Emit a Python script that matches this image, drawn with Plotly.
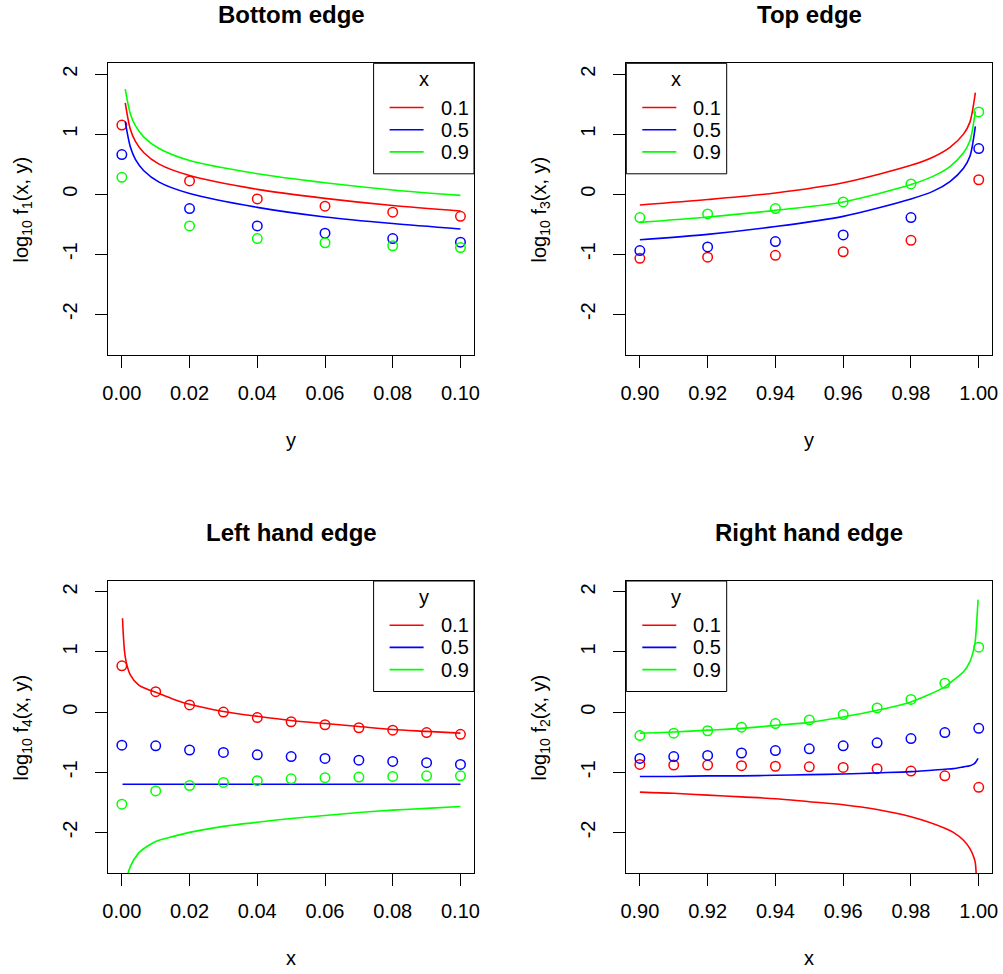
import plotly.graph_objects as go

# ---------------- data ----------------
legend_levels = ["0.1", "0.5", "0.9"]
series_colors = ["#FF0000", "#0000FF", "#00FF00"]

# Panel 1: Bottom edge, log10 f1(x, y) against y, for x = 0.1, 0.5, 0.9
p1_pts_y = [0.00, 0.02, 0.04, 0.06, 0.08, 0.10]
p1_pts_x01 = [1.15, 0.22, -0.08, -0.20, -0.30, -0.37]
p1_pts_x05 = [0.66, -0.24, -0.53, -0.65, -0.74, -0.80]
p1_pts_x09 = [0.28, -0.53, -0.74, -0.81, -0.86, -0.89]
p1_curve_y = [0.001, 0.0025, 0.004, 0.0065, 0.011, 0.02, 0.04, 0.06, 0.08, 0.10]
p1_curve_x01 = [1.52, 1.08, 0.88, 0.69, 0.50, 0.31, 0.08, -0.07, -0.19, -0.28]
p1_curve_x05 = [1.21, 0.79, 0.58, 0.39, 0.20, 0.01, -0.22, -0.38, -0.49, -0.58]
p1_curve_x09 = [1.75, 1.34, 1.14, 0.95, 0.76, 0.56, 0.34, 0.19, 0.07, -0.02]

# Panel 2: Top edge, log10 f3(x, y) against y
p2_pts_y = [0.90, 0.92, 0.94, 0.96, 0.98, 1.00]
p2_pts_x01 = [-1.07, -1.05, -1.02, -0.96, -0.77, 0.24]
p2_pts_x05 = [-0.94, -0.88, -0.79, -0.68, -0.39, 0.76]
p2_pts_x09 = [-0.39, -0.33, -0.24, -0.13, 0.17, 1.37]
p2_curve_y = [0.90, 0.92, 0.94, 0.96, 0.98, 0.9866, 0.9915, 0.9955, 0.9974, 0.999]
p2_curve_x01 = [-0.18, -0.09, 0.02, 0.19, 0.48, 0.62, 0.78, 1.00, 1.20, 1.69]
p2_curve_x05 = [-0.76, -0.67, -0.54, -0.37, -0.08, 0.05, 0.21, 0.43, 0.63, 1.13]
p2_curve_x09 = [-0.47, -0.38, -0.27, -0.13, 0.16, 0.30, 0.46, 0.69, 0.89, 1.38]

# Panel 3: Left hand edge, log10 f4(x, y) against x, for y = 0.1, 0.5, 0.9
p3_pts_x = [0.00, 0.01, 0.02, 0.03, 0.04, 0.05, 0.06, 0.07, 0.08, 0.09, 0.10]
p3_pts_y01 = [0.77, 0.34, 0.12, 0.00, -0.09, -0.16, -0.21, -0.26, -0.30, -0.34, -0.37]
p3_pts_y05 = [-0.55, -0.56, -0.63, -0.67, -0.71, -0.74, -0.77, -0.80, -0.82, -0.84, -0.87]
p3_pts_y09 = [-1.53, -1.31, -1.22, -1.17, -1.14, -1.11, -1.09, -1.08, -1.07, -1.06, -1.06]
p3_curve_x = [0.0002, 0.001, 0.0025, 0.005, 0.0075, 0.01, 0.015, 0.02, 0.03, 0.04,
              0.05, 0.06, 0.07, 0.08, 0.09, 0.10]
p3_curve_y01 = [1.56, 0.92, 0.62, 0.45, 0.38, 0.33, 0.22, 0.13, 0.01, -0.07,
                -0.14, -0.19, -0.24, -0.29, -0.32, -0.35]
p3_curve_y05 = [-1.20, -1.20, -1.20, -1.20, -1.20, -1.20, -1.20, -1.20, -1.20, -1.20,
                -1.20, -1.20, -1.20, -1.20, -1.20, -1.20]
p3_curve_y09 = [-3.60, -2.90, -2.57, -2.34, -2.23, -2.15, -2.07, -2.00, -1.90, -1.83,
                -1.77, -1.72, -1.67, -1.63, -1.60, -1.57]

# Panel 4: Right hand edge, log10 f2(x, y) against x
p4_pts_x = [0.90, 0.91, 0.92, 0.93, 0.94, 0.95, 0.96, 0.97, 0.98, 0.99, 1.00]
p4_pts_y01 = [-0.87, -0.88, -0.88, -0.89, -0.90, -0.91, -0.92, -0.94, -0.98, -1.06, -1.25]
p4_pts_y05 = [-0.77, -0.74, -0.72, -0.68, -0.64, -0.61, -0.56, -0.51, -0.44, -0.34, -0.27]
p4_pts_y09 = [-0.39, -0.35, -0.31, -0.25, -0.19, -0.13, -0.04, 0.07, 0.21, 0.48, 1.08]
p4_curve_x = [0.90, 0.91, 0.92, 0.93, 0.94, 0.95, 0.96, 0.97, 0.98, 0.99,
              0.9925, 0.9955, 0.9974, 0.9986, 0.999, 0.9998]
p4_curve_y01 = [-1.33, -1.35, -1.38, -1.41, -1.44, -1.49, -1.54, -1.62, -1.74, -1.93,
                -2.00, -2.13, -2.27, -2.42, -2.51, -3.50]
p4_curve_y05 = [-1.07, -1.07, -1.06, -1.06, -1.05, -1.04, -1.03, -1.01, -0.99, -0.95,
                -0.94, -0.91, -0.89, -0.86, -0.84, -0.77]
p4_curve_y09 = [-0.35, -0.33, -0.30, -0.27, -0.22, -0.17, -0.08, 0.03, 0.17, 0.42,
                0.53, 0.67, 0.84, 1.06, 1.20, 1.87]

y_tickvals = [-2, -1, 0, 1, 2]
y_ticktext = ["-2", "-1", "0", "1", "2"]
x_ticks_low = [0.00, 0.02, 0.04, 0.06, 0.08, 0.10]
x_ticks_high = [0.90, 0.92, 0.94, 0.96, 0.98, 1.00]

panel_titles = ["Bottom edge", "Top edge", "Left hand edge", "Right hand edge"]
x_titles = ["y", "y", "x", "x"]
y_titles = ["log<sub>10</sub> f<sub>1</sub>(x, y)", "log<sub>10</sub> f<sub>3</sub>(x, y)",
            "log<sub>10</sub> f<sub>4</sub>(x, y)", "log<sub>10</sub> f<sub>2</sub>(x, y)"]
legend_titles = ["x", "x", "y", "y"]

# ---------------- layout geometry (window pixels) ----------------
W, H = 1003, 974
FONT = "Liberation Sans, Arial, Helvetica, sans-serif"
boxes = [  # left, right, top, bottom in pixels
    (108.3, 474.0, 63.3, 355.0),
    (626.3, 992.3, 63.3, 355.0),
    (108.3, 474.0, 581.0, 873.3),
    (626.3, 992.3, 581.0, 873.3),
]
legend_left_side = [False, True, False, True]


def px(xp):
    return xp / W


def py(yp):
    return 1 - yp / H


fig = go.Figure()

panels = [
    (p1_pts_y, [p1_pts_x01, p1_pts_x05, p1_pts_x09], p1_curve_y, [p1_curve_x01, p1_curve_x05, p1_curve_x09], x_ticks_low),
    (p2_pts_y, [p2_pts_x01, p2_pts_x05, p2_pts_x09], p2_curve_y, [p2_curve_x01, p2_curve_x05, p2_curve_x09], x_ticks_high),
    (p3_pts_x, [p3_pts_y01, p3_pts_y05, p3_pts_y09], p3_curve_x, [p3_curve_y01, p3_curve_y05, p3_curve_y09], x_ticks_low),
    (p4_pts_x, [p4_pts_y01, p4_pts_y05, p4_pts_y09], p4_curve_x, [p4_curve_y01, p4_curve_y05, p4_curve_y09], x_ticks_high),
]

annotations = []
shapes = []
layout_axes = {}

for i, (pts_x, pts_series, cx, c_series, xt) in enumerate(panels):
    n = i + 1
    xa = "x" if n == 1 else f"x{n}"
    ya = "y" if n == 1 else f"y{n}"
    for k in range(3):
        fig.add_trace(go.Scatter(
            x=cx, y=c_series[k], mode="lines", xaxis=xa, yaxis=ya,
            line=dict(color=series_colors[k], width=1.6, shape="spline", smoothing=0.8),
            showlegend=False, hoverinfo="skip"))
        fig.add_trace(go.Scatter(
            x=pts_x, y=pts_series[k], mode="markers", xaxis=xa, yaxis=ya,
            marker=dict(symbol="circle-open", size=9.5, color=series_colors[k],
                        line=dict(width=1.5, color=series_colors[k])),
            showlegend=False, cliponaxis=False, hoverinfo="skip"))

    l, r, t, b = boxes[i]
    span = xt[-1] - xt[0]
    common = dict(showline=True, linecolor="black", linewidth=1, mirror=True,
                  showgrid=False, zeroline=False, ticks="outside", ticklen=12,
                  tickwidth=1, tickcolor="black", automargin=False,
                  tickfont=dict(family=FONT, size=20, color="black"))
    layout_axes["xaxis" if n == 1 else f"xaxis{n}"] = dict(
        domain=[px(l), px(r)], anchor=ya,
        range=[xt[0] - 0.04 * span, xt[-1] + 0.04 * span],
        tickvals=xt, ticktext=[f"{v:.2f}" for v in xt],
        ticklabelstandoff=8, **common)
    layout_axes["yaxis" if n == 1 else f"yaxis{n}"] = dict(
        domain=[py(b), py(t)], anchor=xa,
        range=[-2.5 - 0.04 * 4.5, 2 + 0.04 * 4.5],
        tickvals=y_tickvals, ticktext=y_ticktext, tickangle=-90,
        ticklabelstandoff=10, **common)

    cxp = (l + r) / 2
    cyp = (t + b) / 2
    annotations.append(dict(text=f"<b>{panel_titles[i]}</b>", xref="paper", yref="paper",
                            x=px(cxp), y=py(t - 49), xanchor="center", yanchor="middle",
                            showarrow=False, font=dict(family=FONT, size=24, color="black")))
    annotations.append(dict(text=x_titles[i], xref="paper", yref="paper",
                            x=px(cxp), y=py(b + 85), xanchor="center", yanchor="middle",
                            showarrow=False, font=dict(family=FONT, size=20, color="black")))
    annotations.append(dict(text=y_titles[i], xref="paper", yref="paper",
                            x=px(l - 86), y=py(cyp), xanchor="center", yanchor="middle",
                            textangle=-90, showarrow=False,
                            font=dict(family=FONT, size=20, color="black")))

    # legend box (R style)
    lw, lh = 100.4, 110.5
    lx0 = l if legend_left_side[i] else r - lw
    shapes.append(dict(type="rect", xref="paper", yref="paper",
                       x0=px(lx0), x1=px(lx0 + lw), y0=py(t + lh), y1=py(t),
                       line=dict(color="black", width=1), fillcolor="white", layer="above"))
    annotations.append(dict(text=legend_titles[i], xref="paper", yref="paper",
                            x=px(lx0 + 50), y=py(t + 16), xanchor="center", yanchor="middle",
                            showarrow=False, font=dict(family=FONT, size=20, color="black")))
    for k in range(3):
        yy = t + 44.2 + 22.2 * k
        shapes.append(dict(type="line", xref="paper", yref="paper",
                           x0=px(lx0 + 16), x1=px(lx0 + 50), y0=py(yy), y1=py(yy),
                           line=dict(color=series_colors[k], width=1.6), layer="above"))
        annotations.append(dict(text=legend_levels[k], xref="paper", yref="paper",
                                x=px(lx0 + 65), y=py(yy), xanchor="left", yanchor="middle",
                                showarrow=False, font=dict(family=FONT, size=20, color="black")))

fig.update_layout(
    width=W, height=H, margin=dict(l=0, r=0, t=0, b=0),
    paper_bgcolor="white", plot_bgcolor="white",
    showlegend=False, annotations=annotations, shapes=shapes,
    font=dict(family=FONT, size=20, color="black"),
    **layout_axes)

# remove the default page margin so the figure fills the window exactly
fig.write_html("out.html",
               config={"displayModeBar": False, "staticPlot": True},
               post_script="document.body.style.margin='0px';document.body.style.overflow='hidden';")
